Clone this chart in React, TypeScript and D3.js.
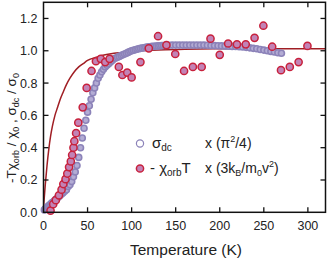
import React from "react";
import * as d3 from "d3";

const width = 327;
const height = 259;
const margin = { top: 2.3, right: 1.5, bottom: 46.7, left: 43.5 };

const xTicks = [0, 50, 100, 150, 200, 250, 300];
const yTicks = [0.0, 0.2, 0.4, 0.6, 0.8, 1.0, 1.2];

// sigma_dc x (pi^2/4), dense open circles
const sigmaT = [
  1, 2, 3, 4, 5, 6, 7, 8, 9, 10, 12, 14, 16, 18, 20, 22, 24, 26, 28, 30, 32, 34, 36, 38, 40,
  42, 44, 46, 48, 50, 52, 54, 56, 58, 60, 62, 64, 66, 68, 70, 72, 74, 76, 78, 80,
  82, 84, 86, 88, 90, 92, 94, 96, 98, 100, 102, 104, 106, 108, 110, 112, 114, 116, 118, 120,
  122, 124, 126, 128, 130, 132, 134, 136, 138, 140, 142, 146, 150, 154, 158, 162, 166, 170, 174, 178,
  182, 186, 190, 194, 198, 202, 206, 210, 214, 218, 222, 226, 230, 234, 238, 242, 246, 250, 254, 258,
  262, 266, 270,
];
const sigmaVal = [
  0.015, 0.02, 0.025, 0.03, 0.035, 0.04, 0.045, 0.05, 0.055, 0.06, 0.07, 0.08, 0.09, 0.1, 0.11, 0.12, 0.13, 0.14, 0.16, 0.17, 0.19, 0.22, 0.25, 0.29, 0.34,
  0.4, 0.46, 0.52, 0.57, 0.62, 0.66, 0.7, 0.74, 0.77, 0.8, 0.83, 0.85, 0.87, 0.885, 0.9, 0.91, 0.92, 0.93, 0.94, 0.95,
  0.955, 0.96, 0.965, 0.97, 0.975, 0.98, 0.985, 0.99, 0.995, 1.0, 1.003, 1.006, 1.009, 1.012, 1.015, 1.017, 1.019, 1.021, 1.023, 1.025,
  1.026, 1.027, 1.028, 1.029, 1.03, 1.031, 1.032, 1.033, 1.033, 1.034, 1.034, 1.035, 1.035, 1.035, 1.035, 1.035, 1.035, 1.035, 1.035, 1.035,
  1.035, 1.034, 1.033, 1.032, 1.031, 1.03, 1.029, 1.028, 1.027, 1.026, 1.025, 1.023, 1.021, 1.018, 1.015, 1.012, 1.008, 1.004, 1.0, 0.996,
  0.992, 0.988, 0.985,
];

// -chi_orb T x (3kB/m0 v^2), filled circles
const chiT = [
  8, 11, 14, 17.5, 20.5, 22.5, 25, 27, 29, 31, 32.5, 34, 35, 37, 39.5, 44.5, 49, 54.5, 59.5, 65,
  70, 75, 85.5, 89.5, 95, 100, 110, 119.5, 130, 139.5, 149.5, 159.5, 169.5, 179.5, 189.5, 200, 209.5, 219.5, 229.5, 239.5,
  249.5, 259.5, 269.5, 279.5, 289.5, 299.5,
];
const chiVal = [
  0.01, 0.05, 0.075, 0.105, 0.14, 0.175, 0.205, 0.24, 0.28, 0.315, 0.355, 0.4, 0.44, 0.49, 0.555, 0.65, 0.77, 0.875, 0.935, 0.95,
  0.93, 0.95, 0.9, 0.85, 0.865, 0.835, 0.93, 1.015, 1.09, 1.035, 0.98, 0.875, 0.9, 0.9, 1.075, 0.975, 1.045, 1.04, 1.04, 1.08,
  1.155, 1.025, 0.88, 0.9, 0.93, 1.03,
];

// model curve
const curveT = [0, 2, 4, 6, 8, 10, 13, 16, 19, 22, 26, 30, 35, 40, 45, 50, 60, 70, 80, 90, 100, 130, 160, 200, 260, 320];
const curveVal = [0.03, 0.17, 0.29, 0.39, 0.47, 0.53, 0.6, 0.65, 0.7, 0.74, 0.79, 0.83, 0.87, 0.9, 0.92, 0.94, 0.96, 0.975, 0.985, 0.99, 0.997, 1.005, 1.01, 1.012, 1.013, 1.013];

const font = "'Liberation Sans', Arial, Helvetica, sans-serif";
const sigmaStroke = "#8c83b9";
const sigmaFill = "#b3acd4";
const chiStroke = "#c8213c";
const chiFill = "#c283b6";

export default function App() {
  const x = d3.scaleLinear().domain([0, 320]).range([margin.left, width - margin.right]);
  const y = d3.scaleLinear().domain([0, 1.3]).range([height - margin.bottom, margin.top]);
  const x0 = margin.left;
  const x1 = width - margin.right;
  const y0 = height - margin.bottom;
  const y1 = margin.top;

  const line = d3
    .line<number>()
    .x((d, i) => x(curveT[i]))
    .y((d) => y(d))
    .curve(d3.curveMonotoneX);

  const tickLen = 5;

  return (
    <svg
      width={width}
      height={height}
      style={{ position: "absolute", left: 0, top: 0, background: "#fff" }}
      fontFamily={font}
    >
      <path d={line(curveVal) || ""} fill="none" stroke="#a01e24" strokeWidth={1.5} />
      <g>
        {sigmaT.map((t, i) => (
          <circle key={`s${i}`} cx={x(t)} cy={y(sigmaVal[i])} r={3} fill={sigmaFill} stroke={sigmaStroke} strokeWidth={1.6} />
        ))}
      </g>
      <g>
        {chiT.map((t, i) => (
          <circle key={`c${i}`} cx={x(t)} cy={y(chiVal[i])} r={3.6} fill={chiFill} stroke={chiStroke} strokeWidth={1.5} />
        ))}
      </g>

      {/* frame */}
      <rect x={x0} y={y1} width={x1 - x0} height={y0 - y1} fill="none" stroke="#111" strokeWidth={1.5} />
      {xTicks.slice(1).map((t) => (
        <g key={`xt${t}`} stroke="#111" strokeWidth={1.3}>
          <line x1={x(t)} x2={x(t)} y1={y0} y2={y0 - tickLen} />
          <line x1={x(t)} x2={x(t)} y1={y1} y2={y1 + tickLen} />
        </g>
      ))}
      {yTicks.slice(1).map((t) => (
        <g key={`yt${t}`} stroke="#111" strokeWidth={1.3}>
          <line x1={x0} x2={x0 + tickLen} y1={y(t)} y2={y(t)} />
          <line x1={x1} x2={x1 - tickLen} y1={y(t)} y2={y(t)} />
        </g>
      ))}
      {xTicks.map((t) => (
        <text key={`xl${t}`} x={x(t)} y={y0 + 18} textAnchor="middle" fontSize={12.5} fill="#222">
          {t}
        </text>
      ))}
      {yTicks.map((t) => (
        <text key={`yl${t}`} x={x0 - 6} y={y(t) + 4.5} textAnchor="end" fontSize={12.5} fill="#222">
          {t.toFixed(1)}
        </text>
      ))}
      <text x={186} y={255} textAnchor="middle" fontSize={15.5} fill="#222">
        Temperature (K)
      </text>
      <text
        transform={`translate(16 ${128}) rotate(-90)`}
        textAnchor="middle"
        fontSize={13.5}
        fill="#222"
      >
        -Tχ<tspan fontSize={9} dy={3}>orb</tspan>
        <tspan dy={-3}> / χ</tspan>
        <tspan fontSize={9} dy={3}>0</tspan>
        <tspan dy={-3}> , σ</tspan>
        <tspan fontSize={9} dy={3}>dc</tspan>
        <tspan dy={-3}> / σ</tspan>
        <tspan fontSize={9} dy={3}>0</tspan>
      </text>

      {/* legend */}
      <circle cx={140} cy={143.5} r={3.6} fill="#fff" stroke={sigmaStroke} strokeWidth={1.2} />
      <text x={152} y={148} fontSize={15} fill="#222">
        σ<tspan fontSize={10} dy={3}>dc</tspan>
      </text>
      <text x={205} y={148} fontSize={14} fill="#222">
        x (π<tspan fontSize={9} dy={-6}>2</tspan>
        <tspan dy={6}>/4)</tspan>
      </text>
      <circle cx={140} cy={168.5} r={3.6} fill={chiFill} stroke={chiStroke} strokeWidth={1.5} />
      <text x={150} y={173} fontSize={15} fill="#222">
        - χ<tspan fontSize={10} dy={3}>orb</tspan>
        <tspan dy={-3}>T</tspan>
      </text>
      <text x={205} y={173} fontSize={14} fill="#222">
        x (3k<tspan fontSize={9} dy={3}>B</tspan>
        <tspan dy={-3}>/m</tspan>
        <tspan fontSize={9} dy={3}>0</tspan>
        <tspan dy={-3}>v</tspan>
        <tspan fontSize={9} dy={-6}>2</tspan>
        <tspan dy={6}>)</tspan>
      </text>
    </svg>
  );
}
